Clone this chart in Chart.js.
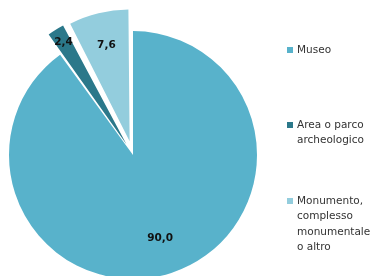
<!DOCTYPE html>
<html>
<head>
<meta charset="utf-8">
<script src="https://cdn.jsdelivr.net/npm/chart.js@4/dist/chart.umd.min.js"></script>
<style>
  html, body { margin: 0; padding: 0; background: #fff; }
  #wrap { position: relative; width: 370px; height: 276px; overflow: hidden; }
  #c { position: absolute; left: 0; top: 0; }
  .lg { position: absolute; left: 287px; font-family: "DejaVu Sans", sans-serif; font-size: 10.5px; line-height: 15.3px; color: #333; }
  .lg .mk { position: absolute; left: 0; top: 5px; width: 6px; height: 6px; }
  .lg .tx { position: absolute; left: 10px; top: 0; white-space: nowrap; }
</style>
</head>
<body>
<div id="wrap">
  <canvas id="c" width="370" height="276"></canvas>
</div>
<script>
// ---- data ----
const categories = ["Museo", "Area o parco archeologico", "Monumento, complesso monumentale o altro"];
const legendLines = [["Museo"], ["Area o parco", "archeologico"], ["Monumento,", "complesso", "monumentale", "o altro"]];
const values = [90.0, 2.4, 7.6];

// ---- styles ----
const colors = ["#58b2cb", "#2b788a", "#93cddd"];
const explode = [0, 50, 57];
const labelRadius = [0.71, 0.88, 0.73];
const legendTops = [42, 117, 193];

const labelPlugin = {
  id: 'sliceLabels',
  afterDatasetsDraw(chart) {
    const ctx = chart.ctx;
    const meta = chart.getDatasetMeta(0);
    ctx.save();
    ctx.font = "bold 10.5px 'DejaVu Sans', sans-serif";
    ctx.fillStyle = "#111";
    ctx.textAlign = "center";
    ctx.textBaseline = "middle";
    meta.data.forEach((arc, i) => {
      const p = arc.getProps(['x', 'y', 'startAngle', 'endAngle', 'outerRadius', 'circumference']);
      const half = (p.startAngle + p.endAngle) / 2;
      const off = explode[i] / 4;
      const fix = 1 - Math.sin(Math.min(Math.PI, p.circumference || 0));
      const shift = off + off * fix;
      const cx = p.x + Math.cos(half) * shift;
      const cy = p.y + Math.sin(half) * shift;
      const r = p.outerRadius * labelRadius[i];
      const txt = values[i].toFixed(1).replace('.', ',');
      ctx.fillText(txt, cx + Math.cos(half) * r, cy + Math.sin(half) * r);
    });
    ctx.restore();
  }
};

new Chart(document.getElementById('c'), {
  type: 'pie',
  data: {
    labels: categories,
    datasets: [{
      data: values,
      backgroundColor: colors,
      borderWidth: 0,
      offset: explode,
      radius: 124,
      clip: false
    }]
  },
  options: {
    responsive: false,
    animation: false,
    layout: { padding: { left: 0, right: 104, top: 34, bottom: 0 } },
    plugins: { legend: { display: false }, tooltip: { enabled: false } }
  },
  plugins: [labelPlugin]
});

// HTML legend
const wrap = document.getElementById('wrap');
categories.forEach((c, i) => {
  const d = document.createElement('div');
  d.className = 'lg';
  d.style.top = legendTops[i] + 'px';
  const mk = document.createElement('div');
  mk.className = 'mk';
  mk.style.background = colors[i];
  const tx = document.createElement('div');
  tx.className = 'tx';
  tx.innerHTML = legendLines[i].join('<br>');
  d.appendChild(mk); d.appendChild(tx);
  wrap.appendChild(d);
});
</script>
</body>
</html>
